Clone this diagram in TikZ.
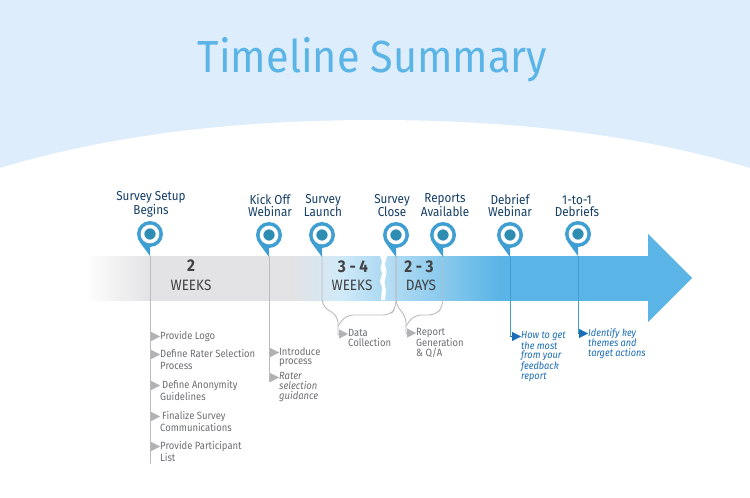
\documentclass[tikz,border=0pt]{standalone}
\usepackage{fontspec}
\setmainfont[FakeStretch=0.9]{Fira Sans}
\newfontfamily\titlefont[FakeStretch=0.92]{Fira Sans}
\usetikzlibrary{arrows.meta}
\usetikzlibrary{positioning}
\definecolor{skyblue}{HTML}{DDEDFB}
\definecolor{titleblue}{HTML}{5AB4E6}
\definecolor{pinblue}{HTML}{3F9FD2}
\definecolor{pinteal}{HTML}{2E8DB3}
\definecolor{navy}{HTML}{143E66}
\definecolor{bargray}{HTML}{E3E2E4}
\definecolor{stemgray}{HTML}{BBBBBF}
\definecolor{tickgray}{HTML}{B2B2B4}
\definecolor{textgray}{HTML}{6D6E71}
\definecolor{inkgray}{HTML}{414042}
\definecolor{linkblue}{HTML}{1A6DB5}
\colorlet{paleblue}{titleblue!28}
\colorlet{midblue}{titleblue!50}
\colorlet{tornblue}{titleblue!42}
\pgfdeclarehorizontalshading{barfade}{100bp}{color(0bp)=(white); color(25bp)=(white);
    color(30.77bp)=(bargray); color(43.2bp)=(bargray); color(47.65bp)=(paleblue);
    color(51.38bp)=(midblue); color(51.39bp)=(tornblue); color(61.86bp)=(titleblue); color(100bp)=(titleblue)}
\begin{document}
\begin{tikzpicture}[x=1pt,y=-1pt,font=\fontsize{10.5}{12}\selectfont,
                pinbody/.style={circle, fill=pinblue, minimum size=26pt, inner sep=0pt},
                pindot/.style={circle, fill=pinteal, draw=white, line width=3.6pt, minimum size=15pt, inner sep=0pt},
                pinlabel/.style={anchor=south, font=\fontsize{13}{12}\selectfont, text=navy, align=center, inner sep=0pt},
                stem/.style={draw=stemgray, line width=0.9pt},
                bluestem/.style={draw=pinblue, line width=1pt},
                span/.style={font=\fontsize{17}{17}\selectfont\bfseries, text=inkgray},
                unit/.style={font=\fontsize{15}{15}\selectfont, text=inkgray},
                item/.style={anchor=north west, inner sep=0pt, text=textgray, align=left},
                tall/.style={item, font=\fontsize{10.5}{12}\selectfont},
                snug/.style={item, font=\fontsize{10.5}{9.8}\selectfont},
                note/.style={snug, text=linkblue, font=\fontsize{10.2}{9.8}\selectfont\itshape},
                tick/.style={draw=tickgray, -{Triangle[length=9pt,width=9pt]}},
                bluetick/.style={draw=linkblue, -{Triangle[length=9pt,width=9pt]}}
            ]
            \useasboundingbox (0,0) rectangle (750,498);
            % sky and the white hill below it
            \fill[skyblue] (0,0) rectangle (750,172);
            \fill[white] (0,168) .. controls (120,132) and (250,120) .. (375,120)
                .. controls (500,120) and (630,132) .. (750,168) -- (750,200) -- (0,200) -- cycle;
            \node[font=\titlefont\fontsize{45}{45}\selectfont, text=titleblue, inner sep=0pt] (title) at (372.5,60) {Timeline Summary};

            % the bar with its torn gap, then the head
            \fill[titleblue] (648,234) -- (692,278) -- (648,322) -- cycle;
            \shade[shading=barfade] (85,256) rectangle (648,300);
            \fill[white] (380,256) -- (382,262) -- (380.5,268) -- (382,274) -- (380,281) -- (382,288) -- (381,300)
                -- (385,300) -- (386,290) -- (384.5,282) -- (386.5,272) -- (385,264) -- (387,256) -- cycle;

            % pins, their labels and stems
            \foreach \n/\x/\y/\lx/\txt in {1/150/234/151/{Survey Setup\\Begins},2/269/235/270/{Kick Off\\Webinar},
                    3/322/235/323/{Survey\\Launch},4/396/235/392/{Survey\\Close},5/443/235/445/{Reports\\Available},
                    6/510/235/510/{Debrief\\Webinar},7/578/234/577/{1-to-1\\Debriefs}}{
                \coordinate (tip\n) at (\x,\y+22);
                \fill[pinblue] (\x,\y) ++(144:13) -- (tip\n) -- (\x,\y) ++(36:13) -- cycle;
                \node[pinbody] (pin\n) at (\x,\y) {};
                \node[pindot] (dot\n) at (pin\n) {};
                \node[pinlabel] (label\n) at (\lx,217) {\txt};
            }
            \node[span] (two) at (191,266) {2};
            \node[unit] (twounit) at (191,285) {WEEKS};
            \node[span] (three) at (353,267) {3 - 4};
            \node[unit] (threeunit) at (352,285) {WEEKS};
            \node[span] (days) at (419,267) {2 - 3};
            \node[unit] (daysunit) at (421,285) {DAYS};

            % what hangs below each stem
            \coordinate (end1) at (150,464);
            \coordinate (end2) at (269,382);
            \draw[stem] (tip1) -- (end1);
            \draw[stem] (tip2) -- (end2);
            \foreach \name/\p/\x/\y/\sty/\txt in {logo/1/160/331/tall/{Provide Logo},
                    rater/1/160/349/tall/{Define Rater Selection\\Process},
                    anon/1/160/380/tall/{\hspace*{2pt}Define Anonymity\\Guidelines},
                    final/1/160/411/tall/{\hspace*{2pt}Finalize Survey\\Communications},
                    part/1/160/441/tall/{Provide Participant\\List},
                    intro/2/279/347/snug/{Introduce\\process},
                    guide/2/279/372/snug/{\textit{Rater}\\\textit{selection}\\\textit{guidance}}}{
                \node[\sty] (\name) at (\x,\y) {\txt};
                \coordinate (\name tip) at ([yshift=-5.5pt]\name.north west);
                \draw[tick] (tip\p |- \name tip) -- (\name tip);
            }

            % the two brackets
            \coordinate (dcjoin) at (338,334);
            \coordinate (rpjoin) at (406,333);
            \draw[stem, rounded corners=7pt] (tip3) -- (322,306) -- (338,316) -- (dcjoin);
            \draw[stem, rounded corners=7pt] (tip4) -- (396,308) -- (390,315) -- (346,315) -- (338,326);
            \draw[stem, rounded corners=7pt] (tip4) -- (396,306) -- (406,316) -- (rpjoin);
            \draw[stem, rounded corners=7pt] (tip5) -- (443,306) -- (436,315) -- (414,315) -- (406,326);
            \node[snug] (data) at (348,329) {Data\\Collection};
            \node[snug] (report) at (416,328) {Report\\Generation\\\& Q/A};
            \draw[tick] (dcjoin) -- (data.north west |- dcjoin);
            \draw[tick] (rpjoin) -- (report.north west |- rpjoin);

            \node[note] (howto) at (521,331) {How to get\\the most\\from your\\feedback\\report};
            \node[note] (themes) at (588,328) {Identify key\\themes and\\target actions};
            \coordinate (howtotip) at ([yshift=-5.5pt]howto.north west);
            \coordinate (themestip) at ([yshift=-5.5pt]themes.north west);
            \draw[bluestem] (tip6) -- (tip6 |- howtotip);
            \draw[bluestem] (tip7) -- (tip7 |- themestip);
            \draw[bluetick] (tip6 |- howtotip) -- (howtotip);
            \draw[bluetick] (tip7 |- themestip) -- (themestip);
        \end{tikzpicture}
\end{document}
